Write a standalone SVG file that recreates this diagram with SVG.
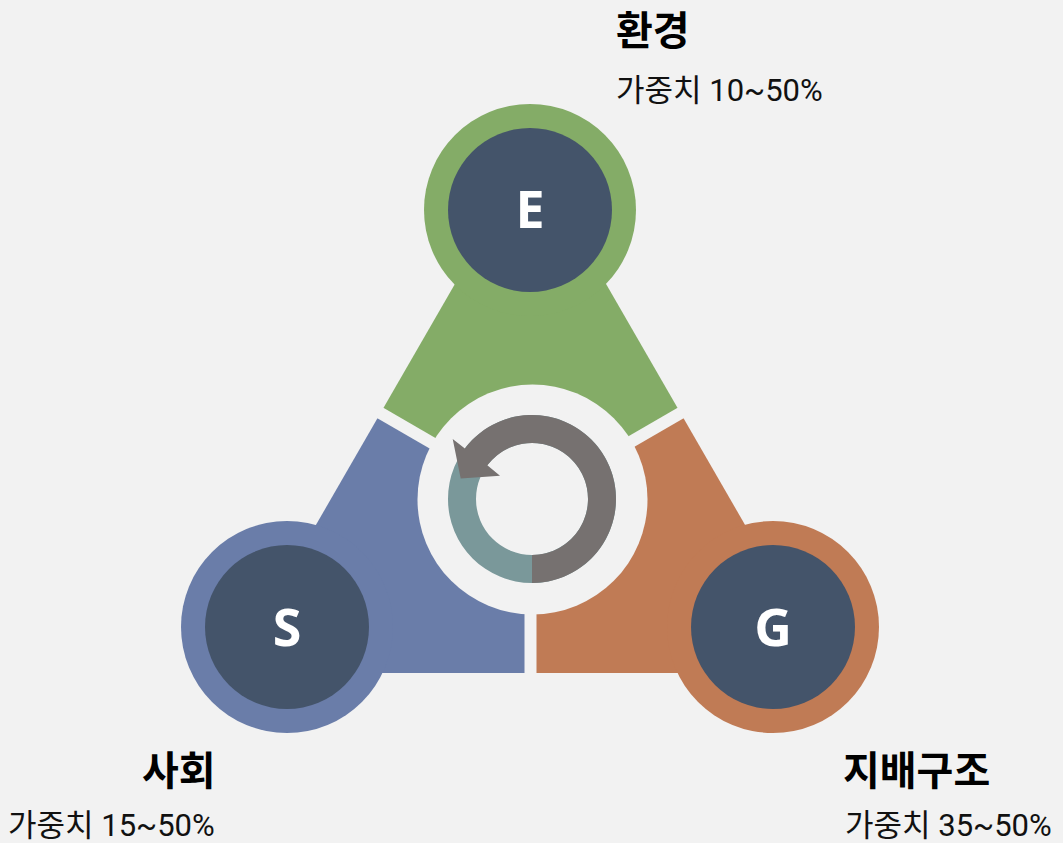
<svg xmlns="http://www.w3.org/2000/svg" width="1063" height="843" viewBox="0 0 1063 843">
  <style>
    .title { font-family: Roboto, "Noto Sans CJK KR", sans-serif; font-weight: 700; font-size: 40px; fill: #000; }
    .sub { font-family: Roboto, "Noto Sans CJK KR", sans-serif; font-size: 31px; fill: #111; }
    .letter { font-family: "Open Sans", "Liberation Sans", sans-serif; font-weight: 700; font-size: 52px; fill: #fff; text-anchor: middle; }
    .core { fill: #44546A; }
    .gap { stroke: #F2F2F2; stroke-width: 12; fill: none; }
  </style>
  <rect width="1063" height="843" fill="#F2F2F2"/>

  <g id="node-E">
    <polygon points="530.5,153 380.5,413 530.5,500 680.5,413" fill="#84AC67"/>
    <circle cx="530" cy="210" r="106" fill="#84AC67"/>
  </g>
  <g id="node-S">
    <polygon points="230.5,673 380.5,413 530.5,500 530.5,673" fill="#6A7DA9"/>
    <circle cx="287" cy="627" r="106" fill="#6A7DA9"/>
  </g>
  <g id="node-G">
    <polygon points="830.5,673 680.5,413 530.5,500 530.5,673" fill="#C07B55"/>
    <circle cx="773" cy="627" r="106" fill="#C07B55"/>
  </g>

  <g id="connectors">
    <line class="gap" x1="530.5" y1="500" x2="370" y2="407"/>
    <line class="gap" x1="530.5" y1="500" x2="691" y2="407"/>
    <line class="gap" x1="530.5" y1="500" x2="530.5" y2="685"/>
  </g>

  <g id="center-cycle">
    <circle cx="532.5" cy="499.5" r="115" fill="#F2F2F2"/>
    <path fill="#7A989A" fill-rule="evenodd" d="M616 499 A84 84 0 1 0 448 499 A84 84 0 1 0 616 499 Z M588 499 A56 56 0 1 0 476 499 A56 56 0 1 0 588 499 Z"/>
    <path fill="#767170" d="M532 583 A84 84 0 1 0 464.9 448.4 L452.7 439 L460.7 478.5 L500 475.7 L487.3 465.3 A56 56 0 1 1 532 555 Z"/>
  </g>

  <g id="label-E">
    <circle class="core" cx="530" cy="210" r="82"/>
    <text class="letter" x="530" y="228">E</text>
    <text class="title" x="616" y="45">환경</text>
    <text class="sub" x="616" y="101">가중치 10~50%</text>
  </g>
  <g id="label-S">
    <circle class="core" cx="287" cy="627" r="82"/>
    <text class="letter" x="287" y="646">S</text>
    <text class="title" x="142" y="785">사회</text>
    <text class="sub" x="8" y="836">가중치 15~50%</text>
  </g>
  <g id="label-G">
    <circle class="core" cx="773" cy="627" r="82"/>
    <text class="letter" x="773" y="646">G</text>
    <text class="title" x="843" y="785">지배구조</text>
    <text class="sub" x="845" y="836">가중치 35~50%</text>
  </g>
</svg>
